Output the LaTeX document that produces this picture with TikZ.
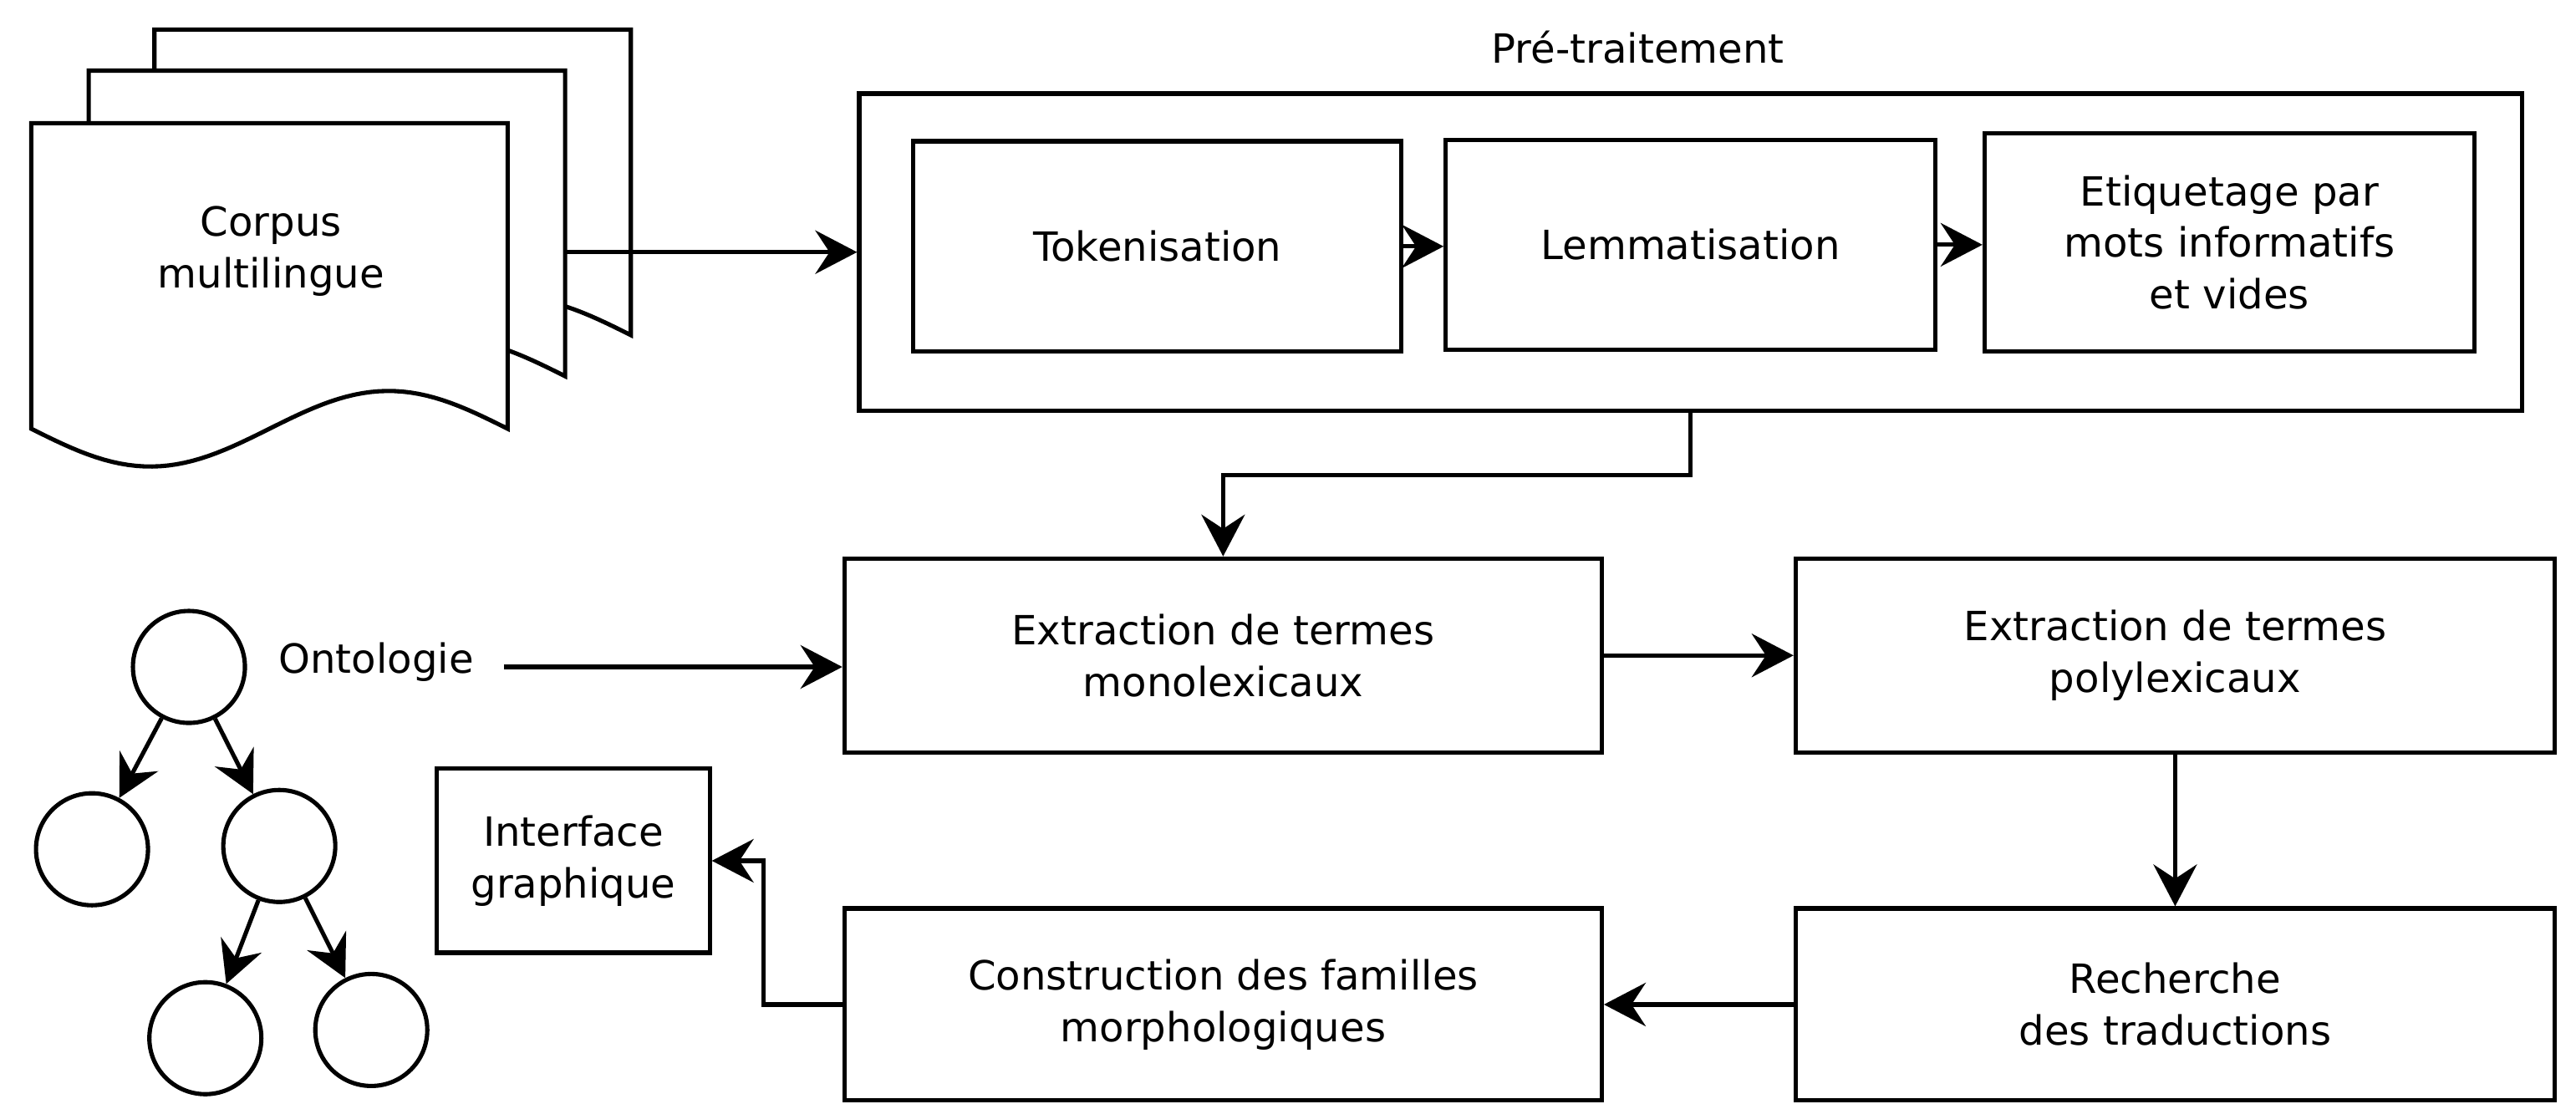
\documentclass[tikz,border=0pt]{standalone}
\usepackage{fontspec}
\setmainfont{DejaVu Sans}
\usetikzlibrary{arrows.meta}
\newlength{\un}\setlength{\un}{0.019656cm}
\begin{document}
\begin{tikzpicture}[x=0.019656cm, y=-0.019656cm, line width=0.051cm,
  txt/.style={font=\fontsize{13.7pt}{17.6pt}\selectfont, align=center, inner sep=0pt},
  box/.style={txt, draw, fill=white, minimum width=#1},
  arr/.style={-{Stealth[length=0.5cm,width=0.52cm,inset=0.17cm]}},
  circ/.style={draw, circle, minimum size=1.34cm, inner sep=0pt},
  page/.style={draw, fill=white, line join=miter}]
\useasboundingbox (0,0) rectangle (1568,672);

% stacked document pages (back to front)
\foreach \L/\T in {94/18, 54/43, 19/75}{
  \draw[page] (\L+290,\T+186) -- (\L+290,\T) -- (\L,\T) -- (\L,\T+186)
    -- plot[domain=0:1, samples=60] ({\L+290*\x},{\T+186+23*sin(360*\x)}) -- cycle;
}
\node[txt] (corpus) at (165,153) {Corpus\\multilingue};
\coordinate (corpusout) at (345,153.5);

% pre-processing group
\node[txt] (pretitle) at (997,29) {Pré-traitement};
\node[box=1012\un, minimum height=193\un] (pre) at (1029,153.5) {};
\node[box=297\un, minimum height=128\un] (tok) at (704.5,150) {Tokenisation};
\node[box=298\un, minimum height=128\un] (lem) at (1029,149) {Lemmatisation};
\node[box=298\un, minimum height=133\un] (eti) at (1357,147.5) {Etiquetage par\\mots informatifs\\et vides};

% main boxes
\node[box=461\un, minimum height=118\un] (mono) at (744.5,399) {Extraction de termes\\monolexicaux};
\node[box=462\un, minimum height=118\un] (poly) at (1324,399) {Extraction de termes\\polylexicaux};
\node[box=462\un, minimum height=117\un] (rech) at (1324,611.5) {Recherche\\des traductions};
\node[box=461\un, minimum height=117\un] (cons) at (744.5,611.5) {Construction des familles\\morphologiques};
\node[box=166\un, minimum height=112\un] (inter) at (349,524) {Interface\\graphique};

% ontology tree
\node[circ] (root) at (115,406) {};
\node[circ] (lc) at (56,517) {};
\node[circ] (rc) at (170,515) {};
\node[circ] (gc1) at (125,632) {};
\node[circ] (gc2) at (226,627) {};
\node[txt] (onto) at (229,403) {Ontologie};
\coordinate (ontoout) at (307,406);

% connectors
\draw[arr] (corpusout) -- (pre.west);
\draw[arr] (tok.east) -- (tok.east -| lem.west);
\draw[arr] (lem.east) -- (lem.east -| eti.west);
\draw[arr] (pre.south) -- ++(0,38) -| (mono.north);
\draw[arr] (ontoout) -- (ontoout -| mono.west);
\draw[arr] (mono.east) -- (poly.west);
\draw[arr] (poly.south) -- (rech.north);
\draw[arr] (rech.west) -- (cons.east);
\draw[arr] (cons.west) -- ++(-48,0) |- (inter.east);
\draw[arr] (root) -- (lc);
\draw[arr] (root) -- (rc);
\draw[arr] (rc) -- (gc1);
\draw[arr] (rc) -- (gc2);
\end{tikzpicture}
\end{document}
